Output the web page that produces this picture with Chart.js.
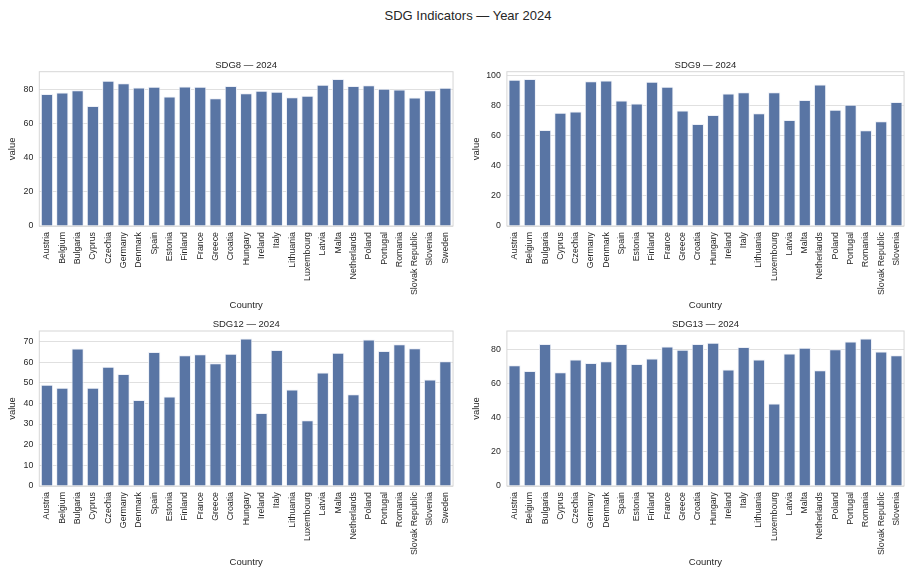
<!DOCTYPE html>
<html><head><meta charset="utf-8">
<script src="https://cdn.jsdelivr.net/npm/chart.js@4"></script>
<style>
body{margin:0;background:#fff;width:913px;height:568px;overflow:hidden;position:relative;font-family:"Liberation Sans",Arial,sans-serif}
canvas{position:absolute}
#sup{position:absolute;left:0;width:936px;top:8px;line-height:15px;text-align:center;font-size:13px;color:#262626}
</style></head><body>
<div id="sup">SDG Indicators — Year 2024</div>
<canvas id="c8" width="462" height="259" style="left:0;top:55px"></canvas>
<canvas id="c9" width="451" height="259" style="left:462px;top:55px"></canvas>
<canvas id="c12" width="462" height="253" style="left:0;top:315px"></canvas>
<canvas id="c13" width="451" height="253" style="left:462px;top:315px"></canvas>
<script>
const countriesAll = ["Austria","Belgium","Bulgaria","Cyprus","Czechia","Germany","Denmark","Spain","Estonia","Finland","France","Greece","Croatia","Hungary","Ireland","Italy","Lithuania","Luxembourg","Latvia","Malta","Netherlands","Poland","Portugal","Romania","Slovak Republic","Slovenia","Sweden"];
const countriesNoSweden = ["Austria","Belgium","Bulgaria","Cyprus","Czechia","Germany","Denmark","Spain","Estonia","Finland","France","Greece","Croatia","Hungary","Ireland","Italy","Lithuania","Luxembourg","Latvia","Malta","Netherlands","Poland","Portugal","Romania","Slovak Republic","Slovenia"];

const sdg8 = [77.4,78.2,79.6,70.3,85.1,83.7,81.2,81.6,75.9,81.8,81.6,74.9,82.0,77.8,79.2,78.6,75.5,76.3,82.8,86.1,82.0,82.4,80.4,80.0,75.3,79.6,81.0];
const sdg9 = [97.3,97.8,63.9,75.3,76.2,96.4,96.9,83.6,81.6,96.0,92.6,76.9,67.9,73.8,88.1,89.0,75.1,89.0,70.6,83.9,94.2,77.4,80.7,63.7,69.7,82.5];
const sdg12 = [49.1,47.6,66.6,47.6,57.8,54.3,41.6,64.9,43.4,63.3,63.8,59.4,64.1,71.5,35.4,65.9,46.7,31.8,55.0,64.6,44.5,71.0,65.4,68.7,66.7,51.6,60.4];
const sdg13 = [70.7,67.4,83.2,66.6,74.1,72.1,73.1,83.2,71.5,74.7,81.8,79.8,83.2,84.0,68.3,81.4,74.1,48.4,77.6,81.0,67.8,80.2,84.7,86.5,78.8,76.6];

const FONT = '"Liberation Sans", Arial, sans-serif';
const TXT = '#262626';
const BAR = '#5975a4';

function makeChart(id, labels, values, title, step, g) {
  const subPlugin = {
    id: 'subt_' + id,
    beforeDatasetsDraw(chart) {
      const a = chart.chartArea, ctx = chart.ctx;
      ctx.save();
      ctx.strokeStyle = '#d6d6d6';
      ctx.lineWidth = 1;
      ctx.strokeRect(a.left, a.top, a.right - a.left, a.bottom - a.top);
      ctx.restore();
    },
    afterDraw(chart) {
      const a = chart.chartArea, ctx = chart.ctx;
      ctx.save();
      ctx.fillStyle = TXT;
      ctx.font = '9.5px ' + FONT;
      ctx.textAlign = 'center';
      ctx.textBaseline = 'middle';
      ctx.fillText(title, (a.left + a.right) / 2, a.top - 6.7);
      ctx.restore();
    }
  };
  const yMax = Math.max(...values) * 1.05;
  return new Chart(document.getElementById(id), {
    type: 'bar',
    data: { labels: labels, datasets: [{ data: values, backgroundColor: BAR, borderColor: 'rgba(235,238,246,0.9)', borderWidth: 1, barPercentage: 0.8, categoryPercentage: 1.0 }] },
    options: {
      responsive: false, animation: false, devicePixelRatio: 1,
      layout: { padding: { left: 0, right: g.padRight, top: g.padTop, bottom: 0 } },
      plugins: { legend: { display: false }, tooltip: { enabled: false }, title: { display: false } },
      scales: {
        x: {
          grid: { display: false, drawTicks: false },
          border: { display: false },
          ticks: { autoSkip: false, minRotation: 90, maxRotation: 90, padding: 6, color: TXT, font: { family: FONT, size: 8.8 } },
          title: { display: true, text: 'Country', color: TXT, font: { family: FONT, size: 9.5 }, padding: { top: 0, bottom: g.xTitlePad } },
          afterFit(s) { s.height = g.xH; }
        },
        y: {
          min: 0, max: yMax,
          grid: { color: '#e0e0e0', lineWidth: 1, drawTicks: false },
          border: { display: false },
          ticks: { padding: 6, color: TXT, font: { family: FONT, size: 8.8 } },
          afterBuildTicks(s) {
            const t = [];
            for (let v = 0; v <= yMax + 1e-9; v += step) t.push({ value: v });
            s.ticks = t;
          },
          title: { display: true, text: 'value', color: TXT, font: { family: FONT, size: 9.5 }, padding: { top: g.yTitlePad, bottom: 0 } },
          afterFit(s) { s.width = g.yW; }
        }
      }
    },
    plugins: [subPlugin]
  });
}

makeChart('c8', countriesAll, sdg8, 'SDG8 — 2024', 20, { padRight: 3.7, padTop: 16.7, xH: 88, xTitlePad: 3.4, yW: 39.3, yTitlePad: 6.4 });
makeChart('c9', countriesNoSweden, sdg9, 'SDG9 — 2024', 20, { padRight: 0.4, padTop: 16.7, xH: 88, xTitlePad: 3.4, yW: 44.9, yTitlePad: 8.4 });
makeChart('c12', countriesAll, sdg12, 'SDG12 — 2024', 10, { padRight: 3.7, padTop: 16, xH: 82, xTitlePad: 0, yW: 39.3, yTitlePad: 6.4 });
makeChart('c13', countriesNoSweden, sdg13, 'SDG13 — 2024', 20, { padRight: 0.4, padTop: 16, xH: 82, xTitlePad: 0, yW: 44.9, yTitlePad: 8.4 });
</script>
</body></html>
